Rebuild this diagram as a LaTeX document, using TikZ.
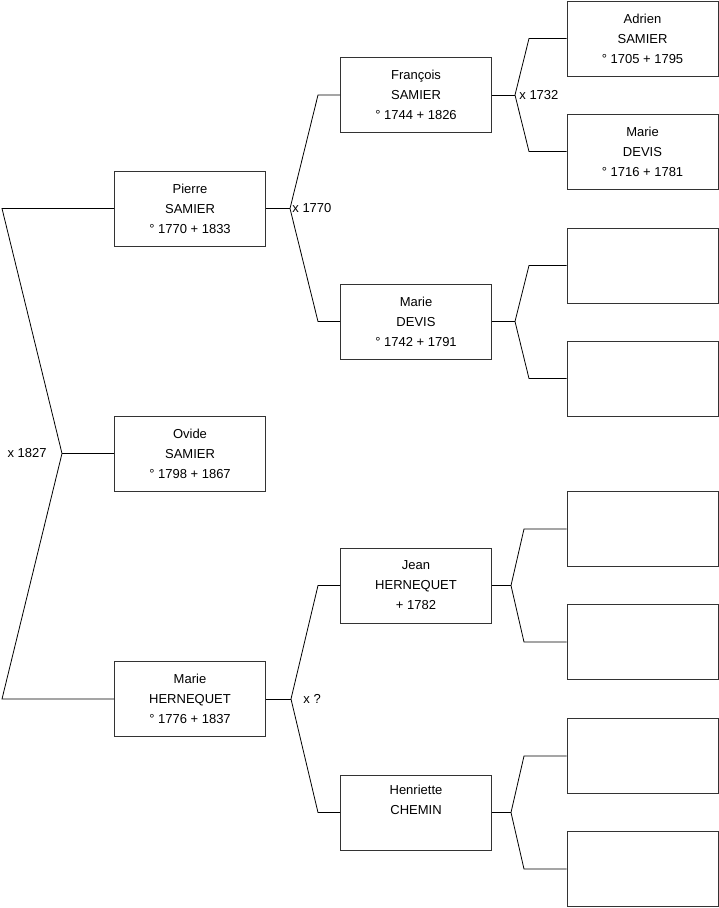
\documentclass[tikz,border=0pt]{standalone}
\usepackage{fontspec}
\setmainfont{Liberation Sans}
\usepackage{tikz}
\definecolor{frame}{HTML}{333333}

\begin{document}
\begin{tikzpicture}[x=1pt,y=-1pt,line width=.8pt,
box/.style={draw=frame,line width=1pt,minimum width=151pt,minimum height=75pt,inner sep=0pt,align=center,font=\fontsize{13}{20}\selectfont},
lbl/.style={font=\fontsize{13}{15}\selectfont,inner sep=2pt}]
\useasboundingbox (0,0) rectangle (719,908);
% generation 1
\node[box] (o) at (190,453.5) {Ovide\\SAMIER\\° 1798 + 1867};
% generation 2
\node[box] (p) at (190,208.5) {Pierre\\SAMIER\\° 1770 + 1833};
\node[box] (m) at (190,699) {Marie\\HERNEQUET\\° 1776 + 1837};
% generation 3
\node[box] (f) at (416,95) {François\\SAMIER\\° 1744 + 1826};
\node[box] (d) at (416,321.5) {Marie\\DEVIS\\° 1742 + 1791};
\node[box] (j) at (416,585.5) {Jean\\HERNEQUET\\+ 1782};
\node[box] (h) at (416,812.5) {Henriette\\CHEMIN\\\strut};
% generation 4
\node[box] (a1) at (642.5,38.5) {Adrien\\SAMIER\\° 1705 + 1795};
\node[box] (a2) at (642.5,151.5) {Marie\\DEVIS\\° 1716 + 1781};
\node[box] (e1) at (642.5,265.5) {};
\node[box] (e2) at (642.5,378.5) {};
\node[box] (e3) at (642.5,529) {};
\node[box] (e4) at (642.5,642) {};
\node[box] (e5) at (642.5,756) {};
\node[box] (e6) at (642.5,869) {};
% forks
\coordinate (f0) at (62,453.5);  \coordinate (t0) at (2,0);
\coordinate (f1) at (290,208.5); \coordinate (t1) at (318,0);
\coordinate (f4) at (291,699);   \coordinate (t4) at (318,0);
\coordinate (f2) at (515,95);    \coordinate (t2) at (529,0);
\coordinate (f3) at (515,321.5); \coordinate (t3) at (529,0);
\coordinate (f5) at (511,585.5); \coordinate (t5) at (524,0);
\coordinate (f6) at (511,812.5); \coordinate (t6) at (524,0);
\draw (o.west)--(f0) node[lbl,left=13pt]{x 1827};
\draw (p.west)--(p.west-|t0)--(f0)--(m.west-|t0)--(m.west);
\draw (p.east)--(f1) node[lbl,right=0pt]{x 1770};
\draw (f.west)--(f.west-|t1)--(f1)--(d.west-|t1)--(d.west);
\draw (m.east)--(f4) node[lbl,right=10pt]{x ?};
\draw (j.west)--(j.west-|t4)--(f4)--(h.west-|t4)--(h.west);
\draw (f.east)--(f2) node[lbl,right=2pt]{x 1732};
\draw (a1.west)--(a1.west-|t2)--(f2)--(a2.west-|t2)--(a2.west);
\draw (d.east)--(f3);
\draw (e1.west)--(e1.west-|t3)--(f3)--(e2.west-|t3)--(e2.west);
\draw (j.east)--(f5);
\draw (e3.west)--(e3.west-|t5)--(f5)--(e4.west-|t5)--(e4.west);
\draw (h.east)--(f6);
\draw (e5.west)--(e5.west-|t6)--(f6)--(e6.west-|t6)--(e6.west);
\end{tikzpicture}
\end{document}
